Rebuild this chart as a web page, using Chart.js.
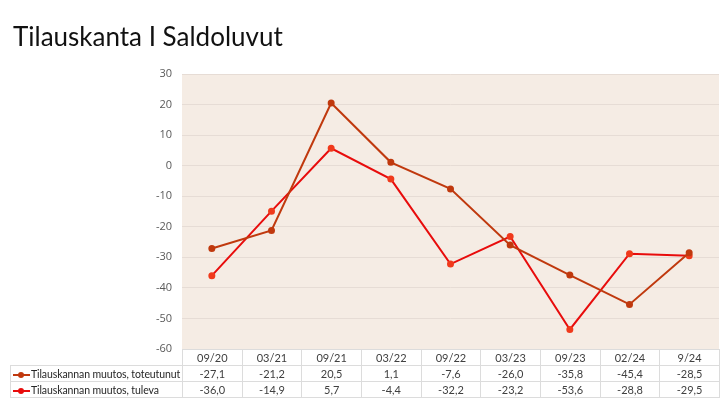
<!DOCTYPE html>
<html>
<head>
<meta charset="utf-8">
<script src="https://cdn.jsdelivr.net/npm/chart.js@4.4.1/dist/chart.umd.min.js"></script>
<style>
    body { margin: 0; background: #fff; font-family: "Open Sans", sans-serif; }
    #wrap { position: relative; width: 720px; height: 405px; overflow: hidden; }
    #title { position: absolute; left: 13px; top: 20px; font-size: 26px; color: #111; font-family: "Lato", sans-serif; }
    #dataTable { position: absolute; border-collapse: collapse; font-size: 11px; color: #404040; table-layout: fixed; font-family: "Lato", sans-serif; }
    #dataTable td { border: 1px solid #dcdcdc; height: 15px; padding: 0; text-align: center; white-space: nowrap; overflow: hidden; }
    #dataTable td.name { text-align: left; color: #262626; padding-left: 2px; font-size: 10.5px; letter-spacing: -0.1px; }
    #dataTable tr.head td.blank { border: none; }
    .key { display: inline-block; position: relative; width: 17px; height: 8px; vertical-align: -1px; margin-right: 1px; }
    .key::before { content: ""; position: absolute; left: 0; right: 0; top: 3px; height: 2px; background: var(--c); }
    .key::after { content: ""; position: absolute; left: 5px; top: 1px; width: 6px; height: 6px; border-radius: 50%; background: var(--c); }
</style>
</head>
<body>
<div id="wrap">
    <div id="title">Tilauskanta I Saldoluvut</div>
    <canvas id="orderChart" width="720" height="405"></canvas>
    <table id="dataTable"></table>
</div>
<script>
const periods = ['09/20', '03/21', '09/21', '03/22', '09/22', '03/23', '09/23', '02/24', '9/24'];
const realized = [-27.1, -21.2, 20.5, 1.1, -7.6, -26.0, -35.8, -45.4, -28.5];
const expected = [-36.0, -14.9, 5.7, -4.4, -32.2, -23.2, -53.6, -28.8, -29.5];
const seriesNames = ['Tilauskannan muutos, toteutunut', 'Tilauskannan muutos, tuleva'];
const seriesColors = ['#c0390e', '#e80c0c'];
const pointColors = ['#c0390e', '#f03a1c'];

const plotBackground = {
    id: 'plotBackground',
    beforeDraw(chart) {
        const a = chart.chartArea;
        const ctx = chart.ctx;
        ctx.save();
        ctx.fillStyle = '#f5ece4';
        ctx.fillRect(a.left, a.top, a.right - a.left, a.bottom - a.top);
        ctx.restore();
    }
};

const ctx = document.getElementById('orderChart').getContext('2d');
const chart = new Chart(ctx, {
    type: 'line',
    data: {
        labels: periods,
        datasets: [realized, expected].map((values, i) => ({
            label: seriesNames[i],
            data: values,
            borderColor: seriesColors[i],
            backgroundColor: pointColors[i],
            pointBackgroundColor: pointColors[i],
            pointBorderColor: pointColors[i],
            borderWidth: 2,
            pointRadius: 2.5,
            tension: 0
        }))
    },
    options: {
        responsive: false,
        animation: false,
        layout: { autoPadding: false, padding: { left: 10, right: 1, top: 74, bottom: 56 } },
        plugins: {
            legend: { display: false },
            tooltip: { enabled: false }
        },
        scales: {
            x: {
                offset: true,
                ticks: { display: false },
                grid: { display: false },
                border: { display: false },
                afterFit: s => { s.height = 0; }
            },
            y: {
                min: -60,
                max: 30,
                ticks: {
                    stepSize: 10,
                    padding: 10,
                    color: '#595959',
                    font: { family: 'Open Sans', size: 11 }
                },
                grid: { color: '#e6dcd5', drawTicks: false },
                border: { display: false },
                afterFit: s => { s.width = 172; }
            }
        }
    },
    plugins: [plotBackground]
});

// data table under the plot, columns follow the x scale
function buildTable() {
    const area = chart.chartArea;
    const colW = (area.right - area.left) / periods.length;
    const table = document.getElementById('dataTable');
    table.style.left = '10px';
    table.style.top = (area.bottom) + 'px';
    table.style.width = (area.right - 10) + 'px';

    let html = '<colgroup><col style="width:' + (area.left - 10) + 'px">';
    periods.forEach(() => { html += '<col style="width:' + colW + 'px">'; });
    html += '</colgroup>';
    html += '<tr class="head"><td class="blank"></td>' + periods.map(p => '<td>' + p + '</td>').join('') + '</tr>';
    [realized, expected].forEach((values, i) => {
        html += '<tr><td class="name"><span class="key" style="--c:' + seriesColors[i] + '"></span>' + seriesNames[i] + '</td>';
        html += values.map(v => '<td>' + v.toFixed(1).replace('.', ',') + '</td>').join('') + '</tr>';
    });
    table.innerHTML = html;
}

buildTable();
</script>
</body>
</html>
